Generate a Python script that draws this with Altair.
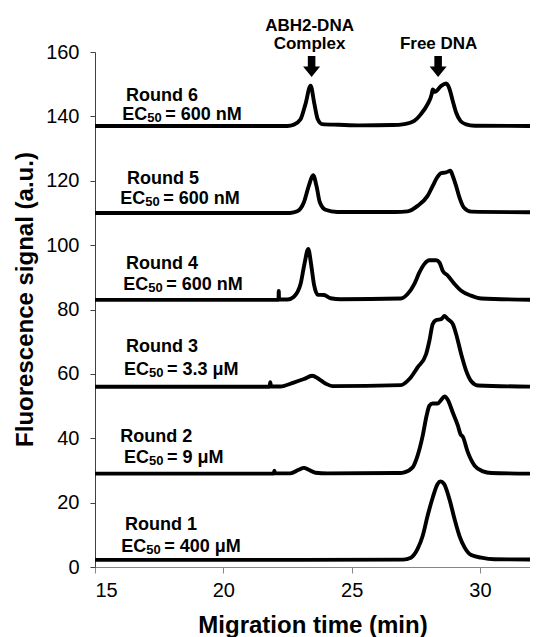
import altair as alt
import pandas as pd

FONT = "Liberation Sans"

rounds = ["Round 1", "Round 2", "Round 3", "Round 4", "Round 5", "Round 6"]
ec50_values = ["400 μM", "9 μM", "3.3 μM", "600 nM", "600 nM", "600 nM"]

r1_t = [15, 22.9, 27.0, 27.31, 27.57, 27.77, 27.96, 28.16, 28.35, 28.46, 28.6, 28.81, 29.01, 29.20, 29.40, 29.66, 30.05, 30.57, 32.3]
r1_v = [2.2, 2.2, 2.3, 2.9, 5.6, 9.7, 15.9, 21.6, 25.8, 26.6, 25.8, 21.1, 14.9, 9.7, 6.1, 3.7, 2.9, 2.4, 2.3]

r2_t = [15, 21.96, 21.99, 22.02, 22.61, 22.94, 23.14, 23.33, 23.59, 24.05, 26.9, 27.05, 27.38, 27.57, 27.77, 27.92, 28.03, 28.16, 28.35, 28.49, 28.62, 28.75, 28.94, 29.14, 29.24, 29.33, 29.53, 29.79, 30.12, 30.44, 32.3]
r2_v = [29, 29, 29.9, 29.1, 29.1, 30.2, 30.8, 30.2, 29.3, 29.1, 29.2, 29.4, 31, 34.6, 40.8, 47, 50.1, 50.8, 50.8, 51.9, 53, 51.9, 48, 43.9, 41.3, 40.5, 35.6, 31.5, 29.7, 29.2, 29]

r3_t = [15, 21.80, 21.83, 21.86, 22.22, 22.74, 23.14, 23.46, 23.72, 23.98, 24.25, 26.92, 27.25, 27.57, 27.90, 28.03, 28.16, 28.29, 28.49, 28.62, 28.75, 28.94, 29.07, 29.27, 29.46, 29.66, 29.92, 32.3]
r3_v = [56, 56, 57.4, 56.1, 56.1, 57.3, 58.4, 59.4, 58.4, 57, 56.2, 56.5, 58.4, 62, 66.1, 70.3, 75.5, 76.7, 77, 78, 77, 75.5, 72.4, 66.1, 61, 57.7, 56.4, 56]

r4_t = [15, 22.0, 22.15, 22.16, 22.17, 22.19, 22.5, 22.74, 23.01, 23.16, 23.31, 23.42, 23.53, 23.68, 23.92, 24.18, 24.57, 26.92, 27.18, 27.44, 27.64, 27.83, 28.03, 28.29, 28.42, 28.55, 28.75, 29.01, 29.27, 29.66, 30.05, 32.3]
r4_v = [83, 83, 83, 85.8, 83.3, 83.1, 83.1, 83.9, 87.9, 94.1, 98.8, 94.1, 87.9, 84.6, 84.5, 83.5, 83.2, 83.4, 84.8, 87.9, 91.5, 94.1, 95.3, 95.3, 94.6, 92, 90.5, 87.9, 85.8, 84.3, 83.4, 83]

r5_t = [15, 22.6, 22.88, 23.14, 23.33, 23.50, 23.63, 23.76, 23.98, 24.44, 26.7, 27.18, 27.57, 27.96, 28.16, 28.33, 28.49, 28.68, 28.85, 28.94, 29.07, 29.20, 29.37, 29.66, 32.3]
r5_v = [110, 110, 110.5, 113.3, 118.4, 121.7, 118.4, 113.3, 111, 110.3, 110.3, 110.5, 112.2, 115.3, 118.4, 121, 122.4, 122.6, 123.1, 121.5, 118.4, 114.8, 111.7, 110.4, 110.2]

r6_t = [15, 22.5, 22.74, 23.01, 23.20, 23.40, 23.55, 23.68, 23.85, 24.5, 25.35, 26.6, 27.05, 27.44, 27.70, 27.96, 28.12, 28.16, 28.25, 28.49, 28.68, 28.81, 28.94, 29.07, 29.24, 29.46, 29.79, 32.3]
r6_v = [137, 137, 137.4, 139.1, 143.8, 149.5, 143.8, 139.1, 137.6, 137.4, 137.2, 137.3, 137.6, 138.6, 140.7, 143.8, 146.9, 148.4, 147.6, 149.5, 150.2, 148.6, 144.8, 141.2, 138.6, 137.5, 137.1, 137]

series_t = [r1_t, r2_t, r3_t, r4_t, r5_t, r6_t]
series_v = [r1_v, r2_v, r3_v, r4_v, r5_v, r6_v]

# label anchors in data coordinates
round_lbl_t = [16.17, 15.98, 16.21, 16.21, 16.25, 16.21]
round_lbl_v = [11.5, 38.9, 66.9, 92.5, 119.0, 144.8]
ec_lbl_t = [16.02, 16.13, 16.13, 16.10, 15.98, 16.06]
ec_lbl_v = [4.6, 32.2, 59.7, 86.0, 112.7, 139.0]

x_ticks = [15, 20, 25, 30]
y_ticks = [0, 20, 40, 60, 80, 100, 120, 140, 160]

peak_names = ["ABH2-DNA", "Complex", "Free DNA"]
peak_name_t = [23.36, 23.36, 28.39]
peak_name_v = [166.6, 160.9, 160.9]
arrow_t = [23.44, 28.37]
arrow_v = [155.5, 155.5]

rows = []
for name, ts, vs in zip(rounds, series_t, series_v):
    for i, (t, v) in enumerate(zip(ts, vs)):
        rows.append({"round": name, "t": t, "v": v, "i": i})
df = pd.DataFrame(rows)

lab_round = pd.DataFrame({"t": round_lbl_t, "v": round_lbl_v, "text": rounds})
lab_ec = pd.DataFrame({"t": ec_lbl_t, "v": ec_lbl_v, "text": ["= " + e for e in ec50_values]})
lab_peak = pd.DataFrame({"t": peak_name_t, "v": peak_name_v, "text": peak_names})
arrows = pd.DataFrame({"t": arrow_t, "v": arrow_v})

xs = alt.Scale(domain=[15, 31.95], nice=False, zero=False)
ys = alt.Scale(domain=[0, 160], nice=False, zero=False)

x_enc = alt.X("t:Q", scale=xs, axis=alt.Axis(
    values=x_ticks, title="Migration time (min)", titleFont=FONT, titleFontSize=24,
    titleFontWeight="bold", titleColor="black", labelFont=FONT, labelFontSize=20,
    labelColor="black", tickSize=6, tickColor="#868686", domainColor="#868686",
    labelPadding=7, titlePadding=13, grid=False, format="d"))
y_enc = alt.Y("v:Q", scale=ys, axis=alt.Axis(
    values=y_ticks, title="Fluorescence signal (a.u.)", titleFont=FONT, titleFontSize=24,
    titleFontWeight="bold", titleColor="black", labelFont=FONT, labelFontSize=20,
    labelColor="black", tickSize=5, tickColor="#404040", domainColor="#404040",
    labelPadding=11, titleBaseline="alphabetic", titleAngle=270, titleX=-63, titleY=247,
    grid=False, format="d"))

lines = alt.Chart(df).mark_line(
    color="black", strokeWidth=3.9, interpolate="monotone", clip=True,
    strokeJoin="round", strokeCap="round"
).encode(x=x_enc, y=y_enc, detail="round:N", order="i:Q")

txt_round = alt.Chart(lab_round).mark_text(
    align="left", baseline="alphabetic", font=FONT, fontSize=18, fontWeight="bold", color="black"
).encode(x="t:Q", y="v:Q", text="text:N")

txt_ec = alt.Chart(lab_ec).mark_text(
    align="left", baseline="alphabetic", font=FONT, fontSize=18, fontWeight="bold", color="black"
).encode(x="t:Q", y="v:Q", text=alt.value("EC"))

txt_sub = alt.Chart(lab_ec).mark_text(
    align="left", baseline="alphabetic", font=FONT, fontSize=13, fontWeight="bold", color="black",
    dx=25, dy=2
).encode(x="t:Q", y="v:Q", text=alt.value("50"))

txt_ec_val = alt.Chart(lab_ec).mark_text(
    align="left", baseline="alphabetic", font=FONT, fontSize=18, fontWeight="bold", color="black",
    dx=43
).encode(x="t:Q", y="v:Q", text="text:N")

txt_peak = alt.Chart(lab_peak).mark_text(
    align="center", baseline="alphabetic", font=FONT, fontSize=17, fontWeight="bold", color="black"
).encode(x="t:Q", y="v:Q", text="text:N")

arrow_mark = alt.Chart(arrows).mark_point(
    shape="M-0.36,-1L0.36,-1L0.36,0L0.81,0L0,1L-0.81,0L-0.36,0Z",
    size=441, filled=True, color="black", opacity=1, strokeWidth=0
).encode(x="t:Q", y="v:Q")

chart = alt.layer(
    lines, txt_round, txt_ec, txt_sub, txt_ec_val, txt_peak, arrow_mark
).properties(
    width=522, height=515,
    autosize=alt.AutoSizeParams(type="fit-x", contains="padding"),
    padding={"left": 4, "top": 8, "right": 0, "bottom": 0},
    background="white",
).configure_view(stroke=None)

chart.save("out.html", embed_options={"renderer": "svg", "actions": False})
